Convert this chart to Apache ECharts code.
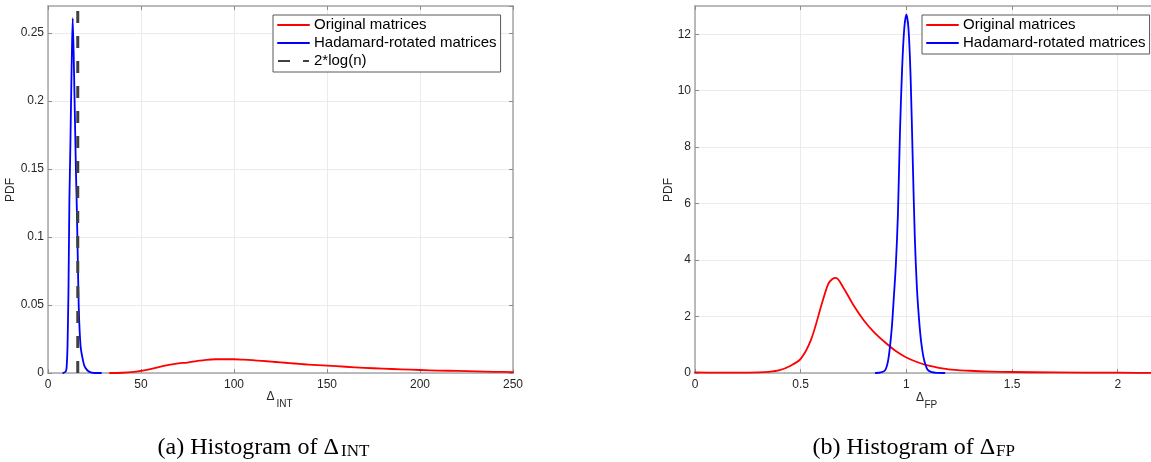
<!DOCTYPE html>
<html>
<head>
<meta charset="utf-8">
<script src="https://cdn.jsdelivr.net/npm/echarts@6/dist/echarts.min.js"></script>
<style>
html,body{margin:0;padding:0;background:#fff;}
#chart{width:1151px;height:462px;}
</style>
</head>
<body>
<div id="chart"></div>
<script>
// ---- Data ----
// (a) Δ_INT
const intOrigX = [33.3, 40, 45, 50, 55, 60, 65, 70, 75, 80, 85, 90, 95, 100, 105, 110, 115, 120, 125, 130, 135, 140, 150, 160, 170, 180, 190, 200, 210, 220, 230, 240, 250];
const intOrigY = [0, 0.0002, 0.0006, 0.0015, 0.0028, 0.0045, 0.006, 0.0071, 0.0077, 0.0088, 0.0097, 0.0101, 0.0101, 0.0101, 0.0098, 0.0094, 0.0089, 0.0084, 0.0078, 0.0073, 0.0067, 0.0062, 0.0054, 0.0046, 0.0038, 0.0032, 0.0027, 0.0022, 0.0018, 0.0015, 0.0012, 0.0009, 0.0006];
const intHadX = [8.2, 9.5, 10, 10.5, 11, 11.5, 12, 12.4, 12.9, 13.3, 13.8, 14.3, 15, 15.4, 15.8, 16.5, 17.5, 19, 20, 22, 25, 28.5];
const intHadY = [0, 0.001, 0.004, 0.02, 0.06, 0.127, 0.165, 0.2, 0.24, 0.261, 0.235, 0.2, 0.15, 0.127, 0.1, 0.05, 0.02, 0.008, 0.004, 0.001, 0, 0];
const intLogX = [16, 16];
const intLogY = [0, 0.27];
// (b) Δ_FP
const fpOrigX = [0, 0.1, 0.2, 0.3, 0.35, 0.4, 0.45, 0.5, 0.55, 0.6, 0.63, 0.65, 0.667, 0.7, 0.75, 0.8, 0.85, 0.9, 0.95, 1.0, 1.05, 1.1, 1.2, 1.3, 1.4, 1.5, 1.7, 2.0, 2.2];
const fpOrigY = [0.02, 0.01, 0.01, 0.02, 0.04, 0.1, 0.25, 0.5, 1.2, 2.45, 3.15, 3.33, 3.37, 3.05, 2.4, 1.85, 1.42, 1.08, 0.78, 0.55, 0.39, 0.27, 0.13, 0.08, 0.05, 0.035, 0.02, 0.01, 0.005];
const fpHadX = [0.855, 0.88, 0.9, 0.915, 0.93, 0.94, 0.95, 0.96, 0.97, 0.98, 0.99, 1.0, 1.01, 1.02, 1.03, 1.04, 1.05, 1.06, 1.07, 1.08, 1.09, 1.1, 1.12, 1.15, 1.18];
const fpHadY = [0, 0.02, 0.1, 0.5, 1.5, 2.6, 3.8, 5.6, 8.6, 10.8, 12.2, 12.7, 12.2, 10.5, 7.6, 4.8, 3.0, 1.9, 1.1, 0.6, 0.3, 0.12, 0.03, 0.005, 0];
// axis ranges / ticks
const intXRange = [0, 250, 50];
const intYRange = [0, 0.27, 0.05];
const fpXRange = [0, 2.2, 0.5];
const fpYRange = [0, 13, 2];
const legendNames = ['Original matrices', 'Hadamard-rotated matrices', '2*log(n)'];

const zip = (xs, ys) => xs.map((x, i) => [x, ys[i]]);

const SANS = '"Liberation Sans", Arial, Helvetica, sans-serif';
const SERIF = '"Liberation Serif", "Times New Roman", serif';
const FRAME = '#a6a6a6';
const GRIDC = '#ebebeb';
const TXT = '#262626';

function mainX(gi, r) {
  return {
    type: 'value', gridIndex: gi, min: r[0], max: r[1], interval: r[2], position: 'bottom',
    axisLine: {show: true, onZero: false, lineStyle: {color: FRAME, width: 1.5}},
    axisTick: {show: true, inside: true, length: 4, lineStyle: {color: '#8c8c8c'}},
    axisLabel: {color: TXT, fontSize: 12, fontFamily: SANS, margin: 6, showMaxLabel: r[1] % r[2] === 0},
    splitLine: {show: true, lineStyle: {color: GRIDC, width: 1}}
  };
}
function topX(gi, r) {
  return {
    type: 'value', gridIndex: gi, min: r[0], max: r[1], interval: r[2], position: 'top',
    axisLine: {show: true, onZero: false, lineStyle: {color: FRAME, width: 1.5}},
    axisTick: {show: true, inside: true, length: 4, lineStyle: {color: '#8c8c8c'}},
    axisLabel: {show: false}, splitLine: {show: false}
  };
}
function mainY(gi, r) {
  return {
    type: 'value', gridIndex: gi, min: r[0], max: r[1], interval: r[2], position: 'left',
    axisLine: {show: true, onZero: false, lineStyle: {color: FRAME, width: 1.5}},
    axisTick: {show: true, inside: true, length: 4, lineStyle: {color: '#8c8c8c'}},
    axisLabel: {color: TXT, fontSize: 12, fontFamily: SANS, margin: 4, showMaxLabel: false},
    splitLine: {show: true, lineStyle: {color: GRIDC, width: 1}}
  };
}
function rightY(gi, r) {
  return {
    type: 'value', gridIndex: gi, min: r[0], max: r[1], interval: r[2], position: 'right',
    axisLine: {show: true, onZero: false, lineStyle: {color: FRAME, width: 1.5}},
    axisTick: {show: true, inside: true, length: 4, lineStyle: {color: '#8c8c8c'}},
    axisLabel: {show: false}, splitLine: {show: false}
  };
}
function legendCfg(left, names) {
  return {
    orient: 'vertical', left: left, top: 15, data: names,
    itemWidth: 31, itemHeight: 18, itemGap: 0,
    padding: [1, 4, 2, 4], backgroundColor: '#fff',
    borderColor: '#595959', borderWidth: 1,
    selectedMode: false,
    itemStyle: {opacity: 0},
    textStyle: {fontSize: 15, fontFamily: SANS, color: '#000', lineHeight: 18}
  };
}
function txt(x, y, text, font, extra) {
  return {
    type: 'text', x: x, y: y, silent: true, z: 100,
    style: Object.assign({text: text, font: font, fill: '#000', align: 'left', verticalAlign: 'middle'}, extra || {})
  };
}
function curve(name, xi, data, color, smooth) {
  return {name: name, type: 'line', xAxisIndex: xi, yAxisIndex: xi, data: data,
    symbol: 'none', smooth: smooth, lineStyle: {color: color, width: 1.8, join: 'round', cap: 'round'},
    itemStyle: {color: color}};
}

const chart = echarts.init(document.getElementById('chart'), null, {renderer: 'canvas'});
chart.setOption({
  animation: false,
  backgroundColor: '#fff',
  grid: [
    {left: 48, top: 6, right: 638, bottom: 89, outerBoundsMode: 'none', containLabel: false},
    {left: 695, top: 6, right: -9, bottom: 89, outerBoundsMode: 'none', containLabel: false}
  ],
  xAxis: [mainX(0, intXRange), topX(0, intXRange), mainX(1, fpXRange), topX(1, fpXRange)],
  yAxis: [mainY(0, intYRange), rightY(0, intYRange), mainY(1, fpYRange), rightY(1, fpYRange)],
  legend: [legendCfg(273, legendNames), legendCfg(922, legendNames.slice(0, 2))],
  series: [
    curve(legendNames[0], 0, zip(intOrigX, intOrigY), '#ff0000', 0.3),
    curve(legendNames[1], 0, zip(intHadX, intHadY), '#0000ff', 0.15),
    {name: legendNames[2], type: 'line', xAxisIndex: 0, yAxisIndex: 0, data: zip(intLogX, intLogY),
      symbol: 'none', lineStyle: {color: '#404040', width: 3, type: [12, 13]}, itemStyle: {color: '#404040'}},
    curve(legendNames[0], 2, zip(fpOrigX, fpOrigY), '#ff0000', 0.3),
    curve(legendNames[1], 2, zip(fpHadX, fpHadY), '#0000ff', 0.3)
  ],
  graphic: [
    Object.assign(txt(11, 190, 'PDF', '12px ' + SANS, {align: 'center', fill: TXT}), {rotation: Math.PI / 2}),
    Object.assign(txt(669, 190, 'PDF', '12px ' + SANS, {align: 'center', fill: TXT}), {rotation: Math.PI / 2}),
    txt(266.5, 397, 'Δ', '12px ' + SANS, {fill: TXT}),
    txt(276.5, 404.5, 'INT', '10px ' + SANS, {fill: TXT}),
    txt(916, 398, 'Δ', '12px ' + SANS, {fill: TXT}),
    txt(924.5, 405, 'FP', '10px ' + SANS, {fill: TXT}),
    txt(157.5, 448, '(a) Histogram of Δ', '24px ' + SERIF),
    txt(341, 452, 'INT', '17px ' + SERIF),
    txt(812.5, 448, '(b) Histogram of Δ', '24px ' + SERIF),
    txt(996, 452, 'FP', '17px ' + SERIF)
  ]
});
</script>
</body>
</html>
